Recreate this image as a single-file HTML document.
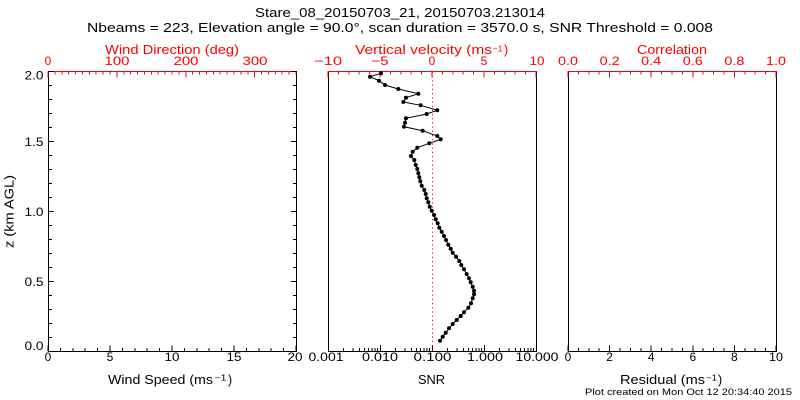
<!DOCTYPE html>
<html>
<head>
<meta charset="utf-8">
<style>
  html,body{margin:0;padding:0;background:#fff;}
  svg{display:block;}
  text{font-family:"Liberation Sans",sans-serif;}
</style>
</head>
<body>
<svg width="800" height="400" viewBox="0 0 800 400" xmlns="http://www.w3.org/2000/svg">
  <rect x="0" y="0" width="800" height="400" fill="#fff"/>

  <!-- Titles -->
  <text x="255" y="17" font-size="13" fill="#000" textLength="290" lengthAdjust="spacingAndGlyphs">Stare_08_20150703_21, 20150703.213014</text>
  <text x="87" y="32" font-size="13" fill="#000" textLength="626" lengthAdjust="spacingAndGlyphs">Nbeams = 223, Elevation angle = 90.0°, scan duration = 3570.0 s, SNR Threshold = 0.008</text>

  <!-- Red top-axis titles -->
  <g fill="#ff0000" font-size="12.5">
    <text x="105" y="54" textLength="134" lengthAdjust="spacingAndGlyphs">Wind Direction (deg)</text>
    <text x="355" y="54" textLength="137" lengthAdjust="spacingAndGlyphs">Vertical velocity (ms</text>
    <text x="492.5" y="51.5" font-size="8" textLength="10" lengthAdjust="spacingAndGlyphs">−1</text>
    <text x="504" y="54">)</text>
    <text x="637" y="54" textLength="70" lengthAdjust="spacingAndGlyphs">Correlation</text>
  </g>

  <!-- Red top tick labels -->
  <g fill="#ff0000" font-size="12" text-anchor="middle">
    <text x="48" y="65">0</text>
    <text x="117" y="65" textLength="25" lengthAdjust="spacingAndGlyphs">100</text>
    <text x="186" y="65" textLength="25" lengthAdjust="spacingAndGlyphs">200</text>
    <text x="255" y="65" textLength="25" lengthAdjust="spacingAndGlyphs">300</text>
    <text x="328" y="65" textLength="28" lengthAdjust="spacingAndGlyphs">−10</text>
    <text x="380" y="65" textLength="17" lengthAdjust="spacingAndGlyphs">−5</text>
    <text x="432" y="65">0</text>
    <text x="484" y="65">5</text>
    <text x="537" y="65" textLength="15" lengthAdjust="spacingAndGlyphs">10</text>
    <text x="568" y="65" textLength="20" lengthAdjust="spacingAndGlyphs">0.0</text>
    <text x="609.6" y="65" textLength="20" lengthAdjust="spacingAndGlyphs">0.2</text>
    <text x="651.2" y="65" textLength="20" lengthAdjust="spacingAndGlyphs">0.4</text>
    <text x="692.8" y="65" textLength="20" lengthAdjust="spacingAndGlyphs">0.6</text>
    <text x="734.4" y="65" textLength="20" lengthAdjust="spacingAndGlyphs">0.8</text>
    <text x="776" y="65" textLength="20" lengthAdjust="spacingAndGlyphs">1.0</text>
  </g>

  <!-- Y labels -->
  <g fill="#000" font-size="12" text-anchor="end">
    <text x="43.5" y="79.5" textLength="19" lengthAdjust="spacingAndGlyphs">2.0</text>
    <text x="43.5" y="146" textLength="19" lengthAdjust="spacingAndGlyphs">1.5</text>
    <text x="43.5" y="216" textLength="19" lengthAdjust="spacingAndGlyphs">1.0</text>
    <text x="43.5" y="286" textLength="19" lengthAdjust="spacingAndGlyphs">0.5</text>
    <text x="43.5" y="350" textLength="19" lengthAdjust="spacingAndGlyphs">0.0</text>
  </g>
  <text transform="translate(13.5,211.5) rotate(-90)" text-anchor="middle" font-size="12.5" fill="#000" textLength="73" lengthAdjust="spacingAndGlyphs">z (km AGL)</text>

  <!-- Bottom tick labels -->
  <g fill="#000" font-size="12" text-anchor="middle">
    <text x="48" y="361">0</text>
    <text x="110" y="361">5</text>
    <text x="172" y="361" textLength="15" lengthAdjust="spacingAndGlyphs">10</text>
    <text x="234" y="361" textLength="15" lengthAdjust="spacingAndGlyphs">15</text>
    <text x="295" y="361" textLength="15" lengthAdjust="spacingAndGlyphs">20</text>
    <text x="326" y="361" textLength="35" lengthAdjust="spacingAndGlyphs">0.001</text>
    <text x="380" y="361" textLength="36" lengthAdjust="spacingAndGlyphs">0.010</text>
    <text x="432.5" y="361" textLength="38" lengthAdjust="spacingAndGlyphs">0.100</text>
    <text x="485" y="361" textLength="36" lengthAdjust="spacingAndGlyphs">1.000</text>
    <text x="537" y="361" textLength="43" lengthAdjust="spacingAndGlyphs">10.000</text>
    <text x="568" y="361">0</text>
    <text x="609.6" y="361">2</text>
    <text x="651.2" y="361">4</text>
    <text x="692.8" y="361">6</text>
    <text x="734.4" y="361">8</text>
    <text x="776" y="361" textLength="14" lengthAdjust="spacingAndGlyphs">10</text>
  </g>

  <!-- Bottom axis titles -->
  <g fill="#000" font-size="12.5">
    <text x="108" y="384" textLength="105" lengthAdjust="spacingAndGlyphs">Wind Speed (ms</text>
    <text x="214.5" y="380.5" font-size="8" textLength="12" lengthAdjust="spacingAndGlyphs">−1</text>
    <text x="228" y="384">)</text>
    <text x="418" y="384" textLength="27" lengthAdjust="spacingAndGlyphs">SNR</text>
    <text x="620" y="384" textLength="85" lengthAdjust="spacingAndGlyphs">Residual (ms</text>
    <text x="706" y="380.5" font-size="8" textLength="11" lengthAdjust="spacingAndGlyphs">−1</text>
    <text x="718" y="384">)</text>
    <text x="585" y="395" font-size="9.5" textLength="207" lengthAdjust="spacingAndGlyphs">Plot created on Mon Oct 12 20:34:40 2015</text>
  </g>

  <g shape-rendering="crispEdges" fill="none">
    <!-- ===== Left panel ===== -->
    <!-- black borders -->
    <path d="M48.5 71V351.5H296.5V71" stroke="#000" stroke-width="1"/>
    <!-- red top axis -->
    <path d="M48 71.5H297" stroke="#ff0000" stroke-width="1"/>
    <line x1="47.5" y1="73" x2="297" y2="73" stroke="#ff0000" stroke-width="3" stroke-dasharray="1 5.8889"/>
    <line x1="47.5" y1="74.5" x2="297" y2="74.5" stroke="#ff0000" stroke-width="6" stroke-dasharray="1 67.8889"/>
    <!-- bottom ticks -->
    <line x1="47.5" y1="349.5" x2="297" y2="349.5" stroke="#000" stroke-width="3" stroke-dasharray="1 11.4"/>
    <line x1="47.5" y1="348.5" x2="297" y2="348.5" stroke="#000" stroke-width="6" stroke-dasharray="1 61"/>
    <!-- left y ticks -->
    <line x1="50.5" y1="71" x2="50.5" y2="352" stroke="#000" stroke-width="3" stroke-dasharray="1 13"/>
    <line x1="51" y1="71" x2="51" y2="352" stroke="#000" stroke-width="6" stroke-dasharray="1 69"/>
    <!-- right y ticks -->
    <line x1="294.5" y1="71" x2="294.5" y2="352" stroke="#000" stroke-width="3" stroke-dasharray="1 13"/>
    <line x1="294" y1="71" x2="294" y2="352" stroke="#000" stroke-width="6" stroke-dasharray="1 69"/>

    <!-- ===== Middle panel ===== -->
    <path d="M328.5 71V351.5H536.5V71" stroke="#000" stroke-width="1"/>
    <path d="M328 71.5H537" stroke="#ff0000" stroke-width="1"/>
    <line x1="327.5" y1="73" x2="537" y2="73" stroke="#ff0000" stroke-width="3" stroke-dasharray="1 9.4"/>
    <line x1="327.5" y1="74.5" x2="537" y2="74.5" stroke="#ff0000" stroke-width="6" stroke-dasharray="1 51"/>
    <!-- log bottom ticks -->
    <path stroke="#000" stroke-width="1" d="
      M328.5 351V345 M380.5 351V345 M432.5 351V345 M484.5 351V345 M536.5 351V345
      M343.65 351V348 M352.81 351V348 M359.31 351V348 M364.35 351V348 M368.46 351V348 M371.95 351V348 M374.96 351V348 M377.62 351V348
      M395.65 351V348 M404.81 351V348 M411.31 351V348 M416.35 351V348 M420.46 351V348 M423.95 351V348 M426.96 351V348 M429.62 351V348
      M447.65 351V348 M456.81 351V348 M463.31 351V348 M468.35 351V348 M472.46 351V348 M475.95 351V348 M478.96 351V348 M481.62 351V348
      M499.65 351V348 M508.81 351V348 M515.31 351V348 M520.35 351V348 M524.46 351V348 M527.95 351V348 M530.96 351V348 M533.62 351V348"/>

    <!-- ===== Right panel ===== -->
    <path d="M568.5 71V351.5H776.5V71" stroke="#000" stroke-width="1"/>
    <path d="M568 71.5H777" stroke="#ff0000" stroke-width="1"/>
    <line x1="567.5" y1="73" x2="777" y2="73" stroke="#ff0000" stroke-width="3" stroke-dasharray="1 9.4"/>
    <line x1="567.5" y1="74.5" x2="777" y2="74.5" stroke="#ff0000" stroke-width="6" stroke-dasharray="1 40.6"/>
    <line x1="567.5" y1="349.5" x2="777" y2="349.5" stroke="#000" stroke-width="3" stroke-dasharray="1 9.4"/>
    <line x1="567.5" y1="348.5" x2="777" y2="348.5" stroke="#000" stroke-width="6" stroke-dasharray="1 40.6"/>
  </g>

  <!-- red dotted zero line -->
  <line x1="432.5" y1="72" x2="432.5" y2="351" stroke="#ff0000" stroke-width="1" stroke-dasharray="1.2 3"/>

  <!-- data -->
  <polyline fill="none" stroke="#000" stroke-width="1" points="
    381.0,73.3 370.0,76.7 379.0,80.7 385.0,85.0 398.3,89.0 418.3,93.7 406.0,97.7 403.3,102.0
    420.7,105.3 437.3,110.3 426.7,114.0 406.0,118.3 405.0,122.7 404.0,126.7 422.7,130.7 437.3,136.0
    440.7,139.3 429.3,143.3 417.3,147.7 412.7,151.7 411.0,156.0 414.3,160.0 415.7,165.0 417.3,169.0
    418.3,173.3 419.3,177.3 420.3,181.3 421.7,185.7 424.3,190.0 425.7,194.0 426.7,198.3 428.3,202.3
    429.7,206.7 431.7,210.7 434.0,215.0 435.7,219.3 437.7,223.3 439.3,227.7 441.7,231.7 444.0,236.0
    446.0,240.0 448.3,244.7 450.7,248.7 452.7,252.7 456.0,256.7 459.3,261.0 461.3,265.0 464.0,269.3
    466.7,274.0 469.0,278.3 470.7,282.3 472.7,286.7 474.0,290.7 474.0,294.3 472.7,298.3 471.0,303.3
    468.3,307.7 464.0,312.3 460.7,316.0 456.7,320.0 452.7,324.0 449.0,328.3 445.7,332.7 442.7,336.7 440.0,340.7"/>
  <g fill="#000">
    <circle cx="381.0" cy="73.3" r="2"/><circle cx="370.0" cy="76.7" r="2"/><circle cx="379.0" cy="80.7" r="2"/><circle cx="385.0" cy="85.0" r="2"/>
    <circle cx="398.3" cy="89.0" r="2"/><circle cx="418.3" cy="93.7" r="2"/><circle cx="406.0" cy="97.7" r="2"/><circle cx="403.3" cy="102.0" r="2"/>
    <circle cx="420.7" cy="105.3" r="2"/><circle cx="437.3" cy="110.3" r="2"/><circle cx="426.7" cy="114.0" r="2"/><circle cx="406.0" cy="118.3" r="2"/>
    <circle cx="405.0" cy="122.7" r="2"/><circle cx="404.0" cy="126.7" r="2"/><circle cx="422.7" cy="130.7" r="2"/><circle cx="437.3" cy="136.0" r="2"/>
    <circle cx="440.7" cy="139.3" r="2"/><circle cx="429.3" cy="143.3" r="2"/><circle cx="417.3" cy="147.7" r="2"/><circle cx="412.7" cy="151.7" r="2"/>
    <circle cx="411.0" cy="156.0" r="2"/><circle cx="414.3" cy="160.0" r="2"/><circle cx="415.7" cy="165.0" r="2"/><circle cx="417.3" cy="169.0" r="2"/>
    <circle cx="418.3" cy="173.3" r="2"/><circle cx="419.3" cy="177.3" r="2"/><circle cx="420.3" cy="181.3" r="2"/><circle cx="421.7" cy="185.7" r="2"/>
    <circle cx="424.3" cy="190.0" r="2"/><circle cx="425.7" cy="194.0" r="2"/><circle cx="426.7" cy="198.3" r="2"/><circle cx="428.3" cy="202.3" r="2"/>
    <circle cx="429.7" cy="206.7" r="2"/><circle cx="431.7" cy="210.7" r="2"/><circle cx="434.0" cy="215.0" r="2"/><circle cx="435.7" cy="219.3" r="2"/>
    <circle cx="437.7" cy="223.3" r="2"/><circle cx="439.3" cy="227.7" r="2"/><circle cx="441.7" cy="231.7" r="2"/><circle cx="444.0" cy="236.0" r="2"/>
    <circle cx="446.0" cy="240.0" r="2"/><circle cx="448.3" cy="244.7" r="2"/><circle cx="450.7" cy="248.7" r="2"/><circle cx="452.7" cy="252.7" r="2"/>
    <circle cx="456.0" cy="256.7" r="2"/><circle cx="459.3" cy="261.0" r="2"/><circle cx="461.3" cy="265.0" r="2"/><circle cx="464.0" cy="269.3" r="2"/>
    <circle cx="466.7" cy="274.0" r="2"/><circle cx="469.0" cy="278.3" r="2"/><circle cx="470.7" cy="282.3" r="2"/><circle cx="472.7" cy="286.7" r="2"/>
    <circle cx="474.0" cy="290.7" r="2"/><circle cx="474.0" cy="294.3" r="2"/><circle cx="472.7" cy="298.3" r="2"/><circle cx="471.0" cy="303.3" r="2"/>
    <circle cx="468.3" cy="307.7" r="2"/><circle cx="464.0" cy="312.3" r="2"/><circle cx="460.7" cy="316.0" r="2"/><circle cx="456.7" cy="320.0" r="2"/>
    <circle cx="452.7" cy="324.0" r="2"/><circle cx="449.0" cy="328.3" r="2"/><circle cx="445.7" cy="332.7" r="2"/><circle cx="442.7" cy="336.7" r="2"/>
    <circle cx="440.0" cy="340.7" r="2"/>
  </g>
</svg>
</body>
</html>
